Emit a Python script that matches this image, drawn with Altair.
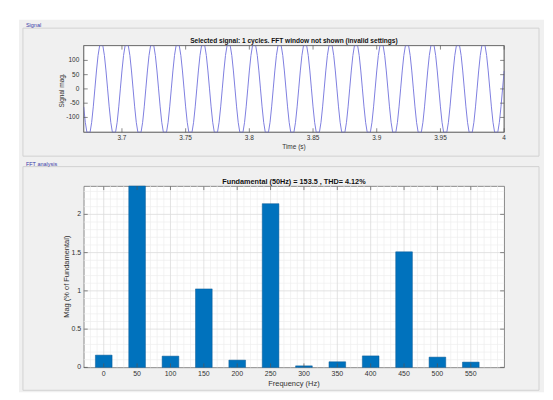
import altair as alt
import pandas as pd

# ---------------- data ----------------
time_start = 3.67
time_step = 0.00125
cycle_values = [-63, -117, -152, -165, -152, -117, -63, 0, 63, 117, 152, 165, 152, 117, 63, 0]
n_samples = 265
signal_t = [round(time_start + i * time_step, 5) for i in range(n_samples)]
signal_v = [cycle_values[i % len(cycle_values)] for i in range(n_samples)]

time_ticks = [3.7, 3.75, 3.8, 3.85, 3.9, 3.95, 4.0]
time_labels = ["3.7", "3.75", "3.8", "3.85", "3.9", "3.95", "4"]
signal_ticks = [-100, -50, 0, 50, 100]
signal_labels = ["-100", "-50", "0", "50", "100"]

# FFT panel
freqs = [0, 50, 100, 150, 200, 250, 300, 350, 400, 450, 500, 550]
mags = [0.16, 100, 0.147, 1.026, 0.095, 2.14, 0.02, 0.073, 0.15, 1.51, 0.134, 0.069]
freq_ticks = [0, 50, 100, 150, 200, 250, 300, 350, 400, 450, 500, 550]
freq_labels = ["0", "50", "100", "150", "200", "250", "300", "350", "400", "450", "500", "550"]
mag_ticks = [0, 0.5, 1, 1.5, 2]
mag_labels = ["0", "0.5", "1", "1.5", "2"]

top_title = "Selected signal: 1 cycles. FFT window not shown (invalid settings)"
bottom_title = "Fundamental (50Hz) = 153.5 , THD= 4.12%"

# ---------------- styles ----------------
FONT = "Liberation Sans"
TXT = "#333333"
TICK = "#555555"
BOXC = "#6e6e6e"
GRAY = "#f0f0f0"
PANEL = "#d2d2d2"
LBL = "#3a3aa8"

W = 422
H1 = 87
H2 = 182
TL = 4  # inward tick length

one = pd.DataFrame({"k": [0]})


def rect(x1, x2, y1, y2, **kw):
    return alt.Chart(one).mark_rect(**kw).encode(
        x=alt.value(x1), x2=alt.value(x2), y=alt.value(y1), y2=alt.value(y2)
    )


def text(txt, x, y, **kw):
    return alt.Chart(one).mark_text(text=txt, font=FONT, **kw).encode(
        x=alt.value(x), y=alt.value(y)
    )


def xlabels(vals, labs, scale, ypix, size):
    df = pd.DataFrame({"v": vals, "s": labs})
    return alt.Chart(df).mark_text(font=FONT, fontSize=size, color=TXT,
                                   align="center", baseline="middle").encode(
        x=alt.X("v:Q", scale=scale, axis=None), y=alt.value(ypix), text="s:N")


def ylabels(vals, labs, scale, xpix, size):
    df = pd.DataFrame({"v": vals, "s": labs})
    return alt.Chart(df).mark_text(font=FONT, fontSize=size, color=TXT,
                                   align="right", baseline="middle").encode(
        y=alt.Y("v:Q", scale=scale, axis=None), x=alt.value(xpix), text="s:N")


def xrules(vals, scale, y1, y2, color, width):
    return alt.Chart(pd.DataFrame({"v": vals})).mark_rule(color=color, strokeWidth=width).encode(
        x=alt.X("v:Q", scale=scale, axis=None), y=alt.value(y1), y2=alt.value(y2))


def yrules(vals, scale, x1, x2, color, width):
    return alt.Chart(pd.DataFrame({"v": vals})).mark_rule(color=color, strokeWidth=width).encode(
        y=alt.Y("v:Q", scale=scale, axis=None), x=alt.value(x1), x2=alt.value(x2))


# ---------------- top (signal) ----------------
xs1 = alt.Scale(domain=[3.67, 4.0], nice=False, zero=False)
ys1 = alt.Scale(domain=[-152, 152], nice=False, zero=False, clamp=True)

sig_df = pd.DataFrame({"t": signal_t, "v": signal_v})

line = alt.Chart(sig_df).mark_line(color="#7f7fe0", strokeWidth=1).encode(
    x=alt.X("t:Q", scale=xs1, axis=None),
    y=alt.Y("v:Q", scale=ys1, axis=None),
)

top = alt.layer(
    rect(-65, 462, -26, 348, fill=GRAY, stroke=GRAY, strokeWidth=0),
    rect(-61, 457, -17.5, 111, fill=GRAY, stroke=PANEL, strokeWidth=1),
    text("Signal", -58, -20.5, align="left", baseline="middle", fontSize=5.5, color=LBL),
    rect(0, W, 0, H1, fill="white", stroke=BOXC, strokeWidth=0.8),
    line,
    rect(0, W, 0, H1, filled=False, stroke=BOXC, strokeWidth=0.8),
    xrules(time_ticks, xs1, H1, H1 - TL, TICK, 0.7),
    xrules(time_ticks, xs1, 0, TL, TICK, 0.7),
    yrules(signal_ticks, ys1, 0, TL, TICK, 0.7),
    yrules(signal_ticks, ys1, W, W - TL, TICK, 0.7),
    xlabels(time_ticks, time_labels, xs1, 93, 6.5),
    ylabels(signal_ticks, signal_labels, ys1, -4.5, 6.5),
    text("Time (s)", W / 2, 101.7, align="center", baseline="middle", fontSize=6.5, color=TXT),
    text("Signal mag.", -21.5, 45, align="center", baseline="middle", fontSize=6.5,
         color=TXT, angle=270),
    text(top_title, W / 2, -4.7, align="center", baseline="middle", fontSize=6.6,
         fontWeight="bold", color="#111111"),
).properties(width=W, height=H1)

# ---------------- bottom (FFT) ----------------
xs2 = alt.Scale(domain=[-30, 600], nice=False, zero=False)
ys2 = alt.Scale(domain=[0, 2.37], nice=False, zero=False, clamp=True)

fft_df = pd.DataFrame({"f": freqs, "m": mags})

minor_x = [v for v in range(-20, 600, 10) if v % 50 != 0]
minor_y = [round(v / 10, 1) for v in range(1, 24) if v % 5 != 0]

bars = alt.Chart(fft_df).transform_calculate(
    lo="datum.f - 12.5", hi="datum.f + 12.5"
).mark_rect(color="#0072BD", stroke="#0d5b96", strokeWidth=0.5).encode(
    x=alt.X("lo:Q", scale=xs2, axis=None),
    x2="hi:Q",
    y=alt.Y("m:Q", scale=ys2, axis=None),
    y2=alt.datum(0),
)

bottom = alt.layer(
    rect(-61, 457, -19.5, 205, filled=False, stroke=PANEL, strokeWidth=1),
    text("FFT analysis", -58, -22.5, align="left", baseline="middle", fontSize=5.5, color=LBL),
    xrules(minor_x, xs2, 0, H2, "#eeeeee", 0.7),
    yrules(minor_y, ys2, 0, W, "#eeeeee", 0.7),
    xrules(freq_ticks, xs2, 0, H2, "#dcdcdc", 0.8),
    yrules(mag_ticks[1:], ys2, 0, W, "#dcdcdc", 0.8),
    bars,
    xrules(freq_ticks, xs2, H2, H2 - TL, TICK, 0.7),
    xrules(freq_ticks, xs2, 0, TL, TICK, 0.7),
    yrules(mag_ticks, ys2, 0, TL, TICK, 0.7),
    yrules(mag_ticks, ys2, W, W - TL, TICK, 0.7),
    xlabels(freq_ticks, freq_labels, xs2, 189, 7),
    ylabels(mag_ticks, mag_labels, ys2, -2.5, 7),
    text("Frequency (Hz)", W / 2, 199, align="center", baseline="middle", fontSize=7.5, color=TXT),
    text("Mag (% of Fundamental)", -16.5, 91, align="center", baseline="middle", fontSize=7.5,
         color=TXT, angle=270),
    text(bottom_title, W / 2, -4, align="center", baseline="middle", fontSize=7.3,
         fontWeight="bold", color="#111111"),
).properties(width=W, height=H2)

chart = alt.vconcat(top, bottom, spacing=54, bounds="flush").properties(
    background="white",
    padding={"left": 10, "top": 10, "right": 0, "bottom": 0},
).configure_view(
    fill="white", stroke=BOXC, strokeWidth=0.8
)

chart.save("out.html", embed_options={"renderer": "svg", "actions": False})
